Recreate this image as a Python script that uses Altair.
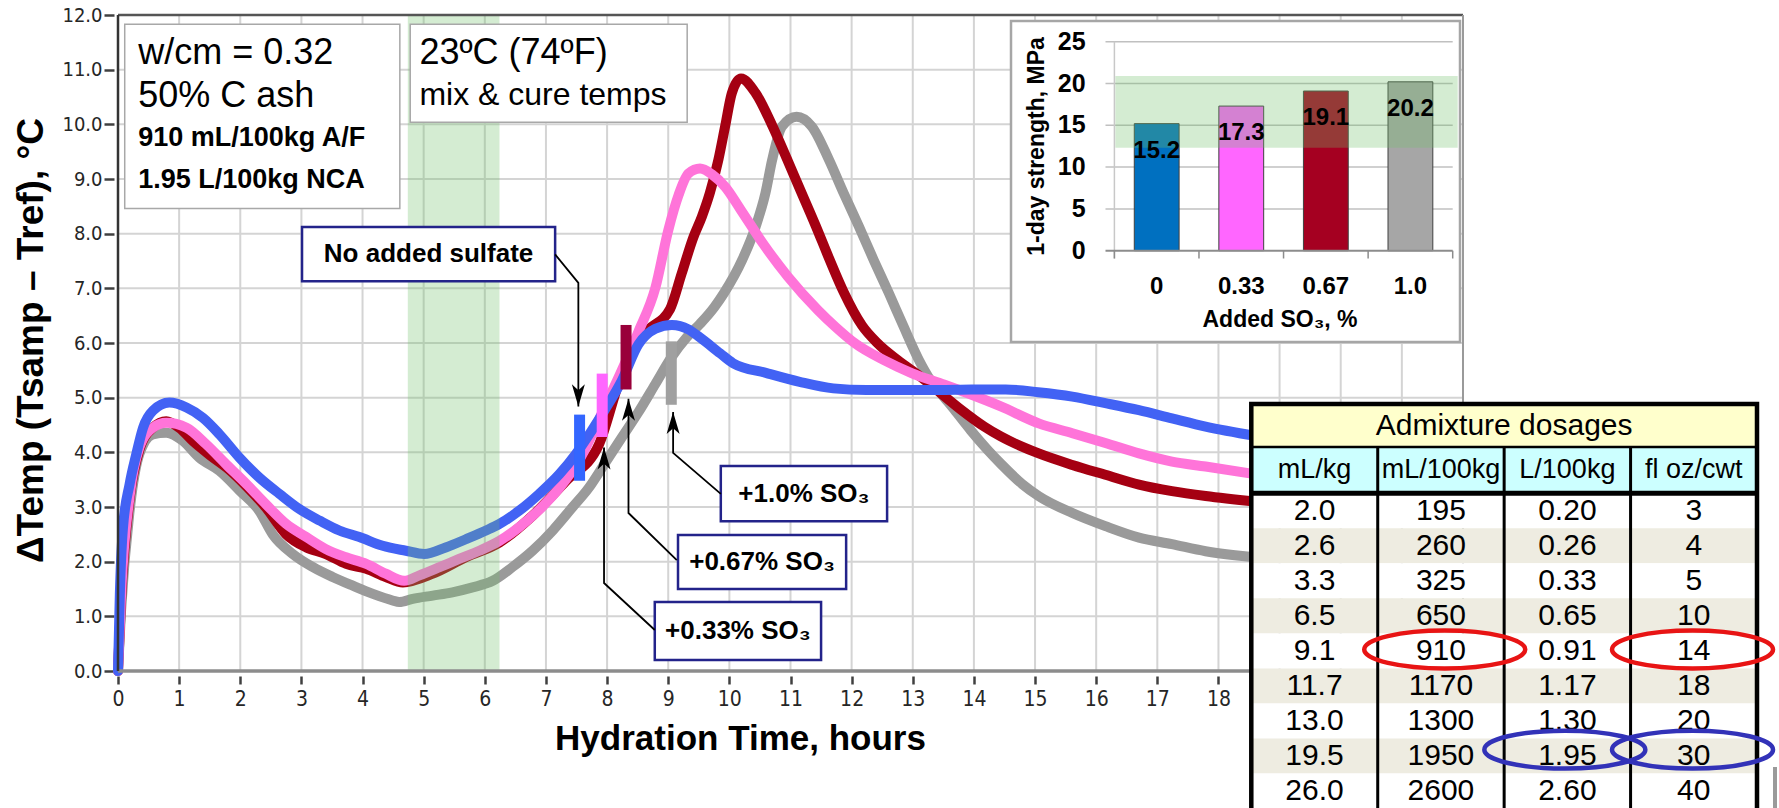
import altair as alt
import pandas as pd

# ---------------- main curves: hydration time (h) vs delta temperature (°C) ----------------
blue_h = [0.0, 0.03, 0.08, 0.19, 0.30, 0.41, 0.57, 0.84, 1.12, 1.39, 1.66, 1.99, 2.31, 2.64, 2.97, 3.30, 3.62, 3.95,
          4.33, 4.71, 5.01, 5.36, 5.69, 6.02, 6.24, 6.56, 6.89, 7.22, 7.49, 7.75, 7.97, 8.24, 8.51, 8.79, 9.06, 9.33,
          9.52, 9.85, 10.06, 10.61, 11.15, 11.70, 12.24, 12.87, 13.43, 13.96, 14.52, 15.05, 15.61, 16.15, 16.70,
          17.24, 17.79, 18.60]
blue_v = [0.0, 1.40, 2.60, 3.42, 3.97, 4.45, 4.76, 4.91, 4.82, 4.63, 4.33, 3.90, 3.54, 3.24, 2.96, 2.75, 2.57, 2.45,
          2.29, 2.20, 2.14, 2.26, 2.41, 2.57, 2.69, 2.93, 3.24, 3.60, 3.97, 4.40, 4.79, 5.31, 5.97, 6.26, 6.33, 6.25,
          6.10, 5.81, 5.63, 5.45, 5.29, 5.17, 5.14, 5.14, 5.14, 5.15, 5.15, 5.10, 5.02, 4.90, 4.77, 4.62, 4.47, 4.30]

pink_h = [0.0, 0.05, 0.19, 0.35, 0.57, 0.79, 1.12, 1.44, 1.77, 2.10, 2.42, 2.75, 3.08, 3.40, 3.73, 4.06, 4.38, 4.68,
          4.93, 5.26, 5.58, 5.91, 6.24, 6.56, 6.89, 7.22, 7.54, 7.97, 8.24, 8.51, 8.79, 9.00, 9.17, 9.33, 9.52, 9.72,
          9.93, 10.19, 10.55, 10.96, 11.45, 11.73, 12.06, 12.52, 12.98, 13.46, 13.90, 14.44, 15.06, 15.61, 16.15,
          16.70, 17.24, 17.79, 18.60]
pink_v = [0.0, 1.40, 3.20, 4.09, 4.45, 4.54, 4.45, 4.15, 3.78, 3.42, 3.05, 2.69, 2.45, 2.23, 2.08, 1.96, 1.78, 1.65,
          1.75, 1.90, 2.05, 2.20, 2.38, 2.63, 2.95, 3.35, 3.85, 4.85, 5.50, 6.20, 7.01, 8.06, 8.71, 9.10, 9.19, 9.08,
          8.86, 8.43, 7.82, 7.21, 6.60, 6.30, 5.99, 5.69, 5.45, 5.26, 5.08, 4.84, 4.53, 4.35, 4.17, 3.98, 3.83, 3.74,
          3.60]

red_h = [0.0, 0.05, 0.19, 0.35, 0.57, 0.79, 1.00, 1.23, 1.50, 1.80, 2.10, 2.42, 2.75, 3.08, 3.40, 3.73, 4.06, 4.38,
         4.66, 5.15, 5.69, 6.24, 6.78, 7.33, 7.87, 8.20, 8.46, 8.68, 9.03, 9.22, 9.41, 9.55, 9.68, 9.82, 9.93, 10.04,
         10.19, 10.43, 10.70, 10.96, 11.16, 11.41, 11.63, 11.87, 12.17, 12.42, 12.75, 13.13, 13.46, 13.79, 14.17,
         14.44, 15.06, 15.61, 16.15, 16.70, 17.24, 17.79, 18.60]
red_v = [0.0, 1.30, 3.15, 4.05, 4.45, 4.57, 4.45, 4.20, 3.95, 3.70, 3.38, 2.99, 2.50, 2.26, 2.14, 1.96, 1.87, 1.72,
         1.62, 1.78, 2.08, 2.35, 2.84, 3.48, 4.15, 5.30, 6.00, 6.25, 6.62, 7.27, 7.93, 8.31, 8.74, 9.35, 9.96, 10.57,
         10.84, 10.57, 9.98, 9.32, 8.80, 8.15, 7.55, 6.93, 6.32, 6.00, 5.69, 5.38, 5.08, 4.78, 4.47, 4.29, 3.98, 3.77,
         3.59, 3.41, 3.29, 3.20, 3.10]

gray_h = [0.0, 0.05, 0.19, 0.35, 0.57, 0.79, 1.06, 1.33, 1.66, 1.99, 2.31, 2.53, 2.86, 3.19, 3.51, 3.84, 4.17, 4.49,
          4.60, 4.82, 5.15, 5.47, 5.80, 6.13, 6.45, 6.78, 7.11, 7.43, 7.70, 7.97, 8.24, 8.51, 8.79, 9.06, 9.30, 9.52,
          9.75, 9.91, 10.21, 10.43, 10.59, 10.70, 10.86, 11.10, 11.35, 11.63, 11.87, 12.12, 12.36, 12.61, 12.85,
          13.10, 13.29, 13.46, 13.68, 13.95, 14.22, 14.45, 14.79, 15.06, 15.61, 16.15, 16.70, 17.24, 17.79, 18.60]
gray_v = [0.0, 1.10, 2.93, 3.97, 4.33, 4.36, 4.21, 3.90, 3.66, 3.30, 2.93, 2.50, 2.14, 1.90, 1.72, 1.56, 1.41, 1.29,
          1.26, 1.32, 1.38, 1.44, 1.53, 1.65, 1.90, 2.20, 2.57, 2.99, 3.35, 3.81, 4.27, 4.73, 5.25, 5.75, 6.10, 6.35,
          6.65, 6.91, 7.52, 8.13, 8.74, 9.35, 9.96, 10.14, 9.96, 9.35, 8.74, 8.13, 7.52, 6.91, 6.30, 5.69, 5.32, 5.08,
          4.78, 4.40, 4.05, 3.78, 3.42, 3.20, 2.89, 2.65, 2.44, 2.32, 2.19, 2.08]

series_names = ["No added sulfate", "+0.33% SO3", "+0.67% SO3", "+1.0% SO3"]
series_colors = ["#4262F4", "#FF74D9", "#A50012", "#9A9A9A"]

# set-time markers on each curve
marker_h = [7.55, 7.92, 8.31, 9.05]
marker_lo = [3.48, 4.28, 5.15, 4.87]
marker_hi = [4.69, 5.44, 6.33, 6.03]
marker_colors = ["#3366FF", "#FF66FF", "#99003A", "#A0A0A0"]

# shaded window (hours)
band_hours = [4.74, 6.24]

# callout boxes
annot_text = ["No added sulfate", "+0.33% SO₃", "+0.67% SO₃", "+1.0% SO₃"]
annot_x1 = [3.01, 8.78, 9.16, 9.86]
annot_x2 = [7.15, 11.50, 11.91, 12.58]
annot_y1 = [7.13, 0.20, 1.50, 2.74]
annot_y2 = [8.12, 1.26, 2.49, 3.75]
conn_h = [[7.15, 7.53, 7.53], [8.78, 7.95, 7.95], [9.14, 8.35, 8.35], [9.86, 9.08, 9.08]]
conn_v = [[7.62, 7.10, 4.84], [0.75, 1.61, 4.09], [2.03, 2.89, 4.98], [3.24, 3.99, 4.74]]
arrow_dir = ["down", "up", "up", "up"]

# info boxes
info_x1 = [0.11, 4.78]
info_x2 = [4.61, 9.31]
info_y1 = [8.46, 10.04]
info_y2 = [11.83, 11.83]
info_lines = ["w/cm = 0.32", "50% C ash", "910 mL/100kg A/F", "1.95 L/100kg NCA", "23ºC (74ºF)", "mix & cure temps"]
info_line_x = [0.33, 0.33, 0.33, 0.33, 4.93, 4.93]
info_line_y = [11.30, 10.51, 9.75, 8.99, 11.30, 10.54]
info_line_size = [36, 36, 27, 27, 36, 32]
info_line_bold = [False, False, True, True, False, False]

x_ticks = list(range(0, 19))
y_ticks = list(range(0, 13))
x_grid = list(range(1, 22))
y_grid = list(range(1, 12))

# ---------------- inset: 1-day strength ----------------
so3_added = ["0", "0.33", "0.67", "1.0"]
strength_mpa = [15.2, 17.3, 19.1, 20.2]
bar_colors = ["#0070C0", "#FF66FF", "#A50021", "#A6A6A6"]
strength_ticks = [0, 5, 10, 15, 20, 25]
strength_band = [12.3, 20.9]

# ---------------- table: admixture dosages ----------------
table_title = "Admixture dosages"
col_headers = ["mL/kg", "mL/100kg", "L/100kg", "fl oz/cwt"]
col_ml_kg = ["2.0", "2.6", "3.3", "6.5", "9.1", "11.7", "13.0", "19.5", "26.0"]
col_ml_100kg = ["195", "260", "325", "650", "910", "1170", "1300", "1950", "2600"]
col_l_100kg = ["0.20", "0.26", "0.33", "0.65", "0.91", "1.17", "1.30", "1.95", "2.60"]
col_floz_cwt = ["3", "4", "5", "10", "14", "18", "20", "30", "40"]
hl_col = [1.53, 3.49, 2.48, 3.49]
hl_row = [4.46, 4.46, 7.32, 7.32]
hl_color = ["#E81414", "#E81414", "#3232B8", "#3232B8"]

# ---------------- layout (pixels) ----------------
W, H = 1345, 656
PAD = {"left": 118, "top": 15, "right": 316, "bottom": 137}
SANS = "Liberation Sans, Arial, sans-serif"
TICKF = "DejaVu Sans Condensed, DejaVu Sans, sans-serif"

xs = alt.Scale(domain=[0, 22], nice=False, zero=False)
ys = alt.Scale(domain=[0, 12], nice=False, zero=False)


def X(f, **k):
    return alt.X(f, scale=xs, axis=None, **k)


def Y(f, **k):
    return alt.Y(f, scale=ys, axis=None, **k)


one = pd.DataFrame({"a": [0]})

x_axis = alt.Axis(values=x_ticks, format="d", title="Hydration Time, hours", grid=False, domain=False,
                  offset=5, tickSize=8, tickWidth=2.5, tickColor="#404040",
                  labelFont=TICKF, labelFontSize=21, labelColor="#262626", labelPadding=4,
                  labelFlush=False, labelOverlap=False,
                  titleFont=SANS, titleFontSize=35, titleFontWeight="bold", titleColor="#000000",
                  titleX=622, titleY=62, titleAlign="center", titleBaseline="middle")
y_axis = alt.Axis(values=y_ticks, format=".1f", title="ΔTemp (Tsamp – Tref), °C", grid=False, domain=False,
                  offset=4, tickSize=10, tickWidth=2.5, tickColor="#404040",
                  labelFont=TICKF, labelFontSize=20, labelColor="#262626", labelPadding=2,
                  labelFlush=False, labelOverlap=False,
                  titleFont=SANS, titleFontSize=37, titleFontWeight="bold", titleColor="#000000",
                  titleX=-83, titleY=325, titleAngle=270, titleAlign="center", titleBaseline="middle")

grid_v = alt.Chart(pd.DataFrame({"h": x_grid})).mark_rule(color="#D4D4D4", strokeWidth=2).encode(
    x=alt.X("h:Q", scale=xs, axis=x_axis), y=alt.value(0), y2=alt.value(H))
grid_hz = alt.Chart(pd.DataFrame({"v": y_grid})).mark_rule(color="#D4D4D4", strokeWidth=2).encode(
    y=alt.Y("v:Q", scale=ys, axis=y_axis), x=alt.value(0), x2=alt.value(W))

curve_layers = []
for name, hs, vs, col in [(series_names[3], gray_h, gray_v, series_colors[3]),
                          (series_names[2], red_h, red_v, series_colors[2]),
                          (series_names[1], pink_h, pink_v, series_colors[1]),
                          (series_names[0], blue_h, blue_v, series_colors[0])]:
    df = pd.DataFrame({"series": name, "h": hs, "v": vs})
    curve_layers.append(alt.Chart(df).mark_line(color=col, strokeWidth=10, interpolate="monotone",
                                                strokeJoin="round", strokeCap="round").encode(
        x=X("h:Q"), y=Y("v:Q")))

band = alt.Chart(pd.DataFrame({"x1": [band_hours[0]], "x2": [band_hours[1]], "y1": [0], "y2": [12]})).mark_rect(
    fill="#6FBF6A", opacity=0.3).encode(x=X("x1:Q"), x2="x2:Q", y=Y("y1:Q"), y2="y2:Q")

markers = alt.Chart(pd.DataFrame({"h": marker_h, "lo": marker_lo, "hi": marker_hi, "c": marker_colors})).mark_rule(
    strokeWidth=11, strokeCap="butt").encode(x=X("h:Q"), y=Y("lo:Q"), y2="hi:Q", color=alt.Color("c:N", scale=None))

frame = alt.Chart(pd.DataFrame({"x1": [0, 0, 22, 0], "x2": [22, 22, 22, 0], "y1": [0, 12, 0, 0], "y2": [0, 12, 12, 12],
                                "c": ["#8C8C8C", "#555555", "#9A9A9A", "#333333"], "w": [3.5, 2.5, 2, 2.5]})).mark_rule(
).encode(x=X("x1:Q"), x2="x2:Q", y=Y("y1:Q"), y2="y2:Q", color=alt.Color("c:N", scale=None),
         strokeWidth=alt.StrokeWidth("w:Q", scale=None))

info_boxes = alt.Chart(pd.DataFrame({"x1": info_x1, "x2": info_x2, "y1": info_y1, "y2": info_y2})).mark_rect(
    fill="white", stroke="#A8A8A8", strokeWidth=1.5).encode(x=X("x1:Q"), x2="x2:Q", y=Y("y1:Q"), y2="y2:Q")
info_df = pd.DataFrame({"t": info_lines, "x": info_line_x, "y": info_line_y, "s": info_line_size,
                        "b": info_line_bold})
info_text_n = alt.Chart(info_df[~info_df.b]).mark_text(align="left", baseline="middle", font=SANS,
                                                        color="#000000").encode(
    x=X("x:Q"), y=Y("y:Q"), text="t:N", size=alt.Size("s:Q", scale=None))
info_text_b = alt.Chart(info_df[info_df.b]).mark_text(align="left", baseline="middle", font=SANS,
                                                       fontWeight="bold", color="#000000").encode(
    x=X("x:Q"), y=Y("y:Q"), text="t:N", size=alt.Size("s:Q", scale=None))

annot_df = pd.DataFrame({"t": annot_text, "x1": annot_x1, "x2": annot_x2, "y1": annot_y1, "y2": annot_y2})
annot_df["xm"] = (annot_df.x1 + annot_df.x2) / 2
annot_df["ym"] = (annot_df.y1 + annot_df.y2) / 2
annot_boxes = alt.Chart(annot_df).mark_rect(fill="white", stroke="#23238A", strokeWidth=2.5).encode(
    x=X("x1:Q"), x2="x2:Q", y=Y("y1:Q"), y2="y2:Q")
annot_txt = alt.Chart(annot_df).mark_text(font=SANS, fontWeight="bold", fontSize=26, baseline="middle",
                                          color="#000000").encode(x=X("xm:Q"), y=Y("ym:Q"), text="t:N")

conn_rows = []
for i in range(len(conn_h)):
    for j in range(len(conn_h[i])):
        conn_rows.append({"id": i, "seq": j, "h": conn_h[i][j], "v": conn_v[i][j]})
connectors = alt.Chart(pd.DataFrame(conn_rows)).mark_line(color="#000000", strokeWidth=1.8).encode(
    x=X("h:Q"), y=Y("v:Q"), detail="id:N", order="seq:Q")

ARROW = {"down": "M 0 0 L -0.5 -1.7 L 0 -1.25 L 0.5 -1.7 Z", "up": "M 0 0 L -0.5 1.7 L 0 1.25 L 0.5 1.7 Z"}
arrow_df = pd.DataFrame({"h": [c[-1] for c in conn_h], "v": [c[-1] for c in conn_v],
                         "shp": [ARROW[d] for d in arrow_dir]})
arrows = alt.Chart(arrow_df).mark_point(filled=True, color="#000000", size=676, opacity=1).encode(
    x=X("h:Q"), y=Y("v:Q"), shape=alt.Shape("shp:N", scale=None))

main_layers = [grid_v, grid_hz, *curve_layers, band, markers, frame, info_boxes, info_text_n, info_text_b,
               annot_boxes, annot_txt, connectors, arrows]

# ---------------- inset chart ----------------
ix = alt.Scale(domain=so3_added, range=[996.4, 1334.7], paddingInner=0, paddingOuter=0)
iy = alt.Scale(domain=[0, 25], range=[235.7, 26.7], nice=False, zero=False)
BF = "Liberation Sans, Arial, sans-serif"

bars_df = pd.DataFrame({"so3": so3_added, "mpa": strength_mpa, "c": bar_colors})
ticks_df = pd.DataFrame({"t": strength_ticks, "lab": [str(t) for t in strength_ticks]})

inset_box = alt.Chart(one).mark_rect(fill="white", stroke="#A6A6A6", strokeWidth=2.5).encode(
    x=alt.value(893), x2=alt.value(1342), y=alt.value(6), y2=alt.value(327))
inset_grid = alt.Chart(ticks_df[ticks_df.t > 0]).mark_rule(color="#C0C0C0", strokeWidth=1.5).encode(
    y=alt.Y("t:Q", scale=iy, axis=None), x=alt.value(987.5), x2=alt.value(1334.7))
inset_yline = alt.Chart(bars_df.iloc[:1]).mark_rule(color="#C8C8C8", strokeWidth=1.5).encode(
    x=alt.X("so3:N", scale=ix, axis=None, bandPosition=0), y=alt.value(26.7), y2=alt.value(243.5))
inset_bars = alt.Chart(bars_df).mark_bar(width=alt.RelativeBandSize(0.53), stroke="#404040",
                                          strokeWidth=1).encode(
    x=alt.X("so3:N", scale=ix, axis=None, sort=None), y=alt.Y("mpa:Q", scale=iy, axis=None),
    color=alt.Color("c:N", scale=None))
inset_band = alt.Chart(pd.DataFrame({"lo": [strength_band[0]], "hi": [strength_band[1]]})).mark_rect(
    fill="#6FBF6A", opacity=0.3).encode(y=alt.Y("lo:Q", scale=iy, axis=None), y2="hi:Q",
                                        x=alt.value(997.4), x2=alt.value(1339.7))
inset_base = alt.Chart(ticks_df[ticks_df.t == 0]).mark_rule(color="#8C8C8C", strokeWidth=2).encode(
    y=alt.Y("t:Q", scale=iy, axis=None), x=alt.value(987.5), x2=alt.value(1334.7))
inset_xticks = alt.Chart(bars_df).mark_rule(color="#8C8C8C", strokeWidth=1.5).encode(
    x=alt.X("so3:N", scale=ix, axis=None, bandPosition=0), y=alt.value(235.7), y2=alt.value(243.5))
inset_xtick_end = alt.Chart(bars_df.iloc[-1:]).mark_rule(color="#8C8C8C", strokeWidth=1.5).encode(
    x=alt.X("so3:N", scale=ix, axis=None, bandPosition=1), y=alt.value(235.7), y2=alt.value(243.5))
inset_vals = alt.Chart(bars_df).mark_text(font=BF, fontWeight="bold", fontSize=24, dy=27, baseline="middle",
                                          color="#000000").encode(
    x=alt.X("so3:N", scale=ix, axis=None), y=alt.Y("mpa:Q", scale=iy, axis=None),
    text=alt.Text("mpa:Q", format=".1f"))
inset_ylab = alt.Chart(ticks_df).mark_text(font=BF, fontWeight="bold", fontSize=25, align="right",
                                           baseline="middle", color="#000000").encode(
    y=alt.Y("t:Q", scale=iy, axis=None), x=alt.value(967.6), text="lab:N")
inset_xlab = alt.Chart(bars_df).mark_text(font=BF, fontWeight="bold", fontSize=24, baseline="middle",
                                          color="#000000").encode(
    x=alt.X("so3:N", scale=ix, axis=None), y=alt.value(271.7), text="so3:N")
inset_ytitle = alt.Chart(one).mark_text(font=BF, fontWeight="bold", fontSize=23, angle=270, baseline="middle",
                                        text="1-day strength, MPa", color="#000000").encode(
    x=alt.value(919), y=alt.value(131.5))
inset_xtitle = alt.Chart(one).mark_text(font=BF, fontWeight="bold", fontSize=23, baseline="middle",
                                        text="Added SO₃, %", color="#000000").encode(
    x=alt.value(1162), y=alt.value(305))

inset_layers = [inset_box, inset_grid, inset_yline, inset_bars, inset_band, inset_base, inset_xticks,
                inset_xtick_end, inset_vals, inset_ylab, inset_xlab, inset_ytitle, inset_xtitle]

# ---------------- dosage table ----------------
tx = alt.Scale(domain=[0, 4], range=[1133.3, 1639], nice=False, zero=False)
ty = alt.Scale(domain=[-2.55, 9], range=[389, 793.5], nice=False, zero=False)


def TX(f, **k):
    return alt.X(f, scale=tx, axis=None, **k)


def TY(f, **k):
    return alt.Y(f, scale=ty, axis=None, **k)


n_rows = len(col_ml_kg)
rect_rows = [{"x1": 0, "x2": 4, "y1": -2.55, "y2": -1.32, "f": "#FFFFCC"},
             {"x1": 0, "x2": 4, "y1": -1.32, "y2": 0, "f": "#CCFFFF"}]
for r in range(n_rows):
    rect_rows.append({"x1": 0, "x2": 4, "y1": r, "y2": r + 1, "f": "#EEECE1" if r % 2 == 1 else "#FFFFFF"})
t_fill = alt.Chart(pd.DataFrame(rect_rows)).mark_rect().encode(
    x=TX("x1:Q"), x2="x2:Q", y=TY("y1:Q"), y2="y2:Q", fill=alt.Fill("f:N", scale=None))

line_rows = [{"x1": c, "x2": c, "y1": -1.32, "y2": 9.3, "w": 3} for c in [1, 2, 3]]
line_rows += [{"x1": 0, "x2": 4, "y1": -1.32, "y2": -1.32, "w": 2.5},
              {"x1": 0, "x2": 4, "y1": 0, "y2": 0, "w": 5}]
t_lines = alt.Chart(pd.DataFrame(line_rows)).mark_rule(color="#000000").encode(
    x=TX("x1:Q"), x2="x2:Q", y=TY("y1:Q"), y2="y2:Q", strokeWidth=alt.StrokeWidth("w:Q", scale=None))
t_border = alt.Chart(pd.DataFrame({"x1": [0], "x2": [4], "y1": [-2.55], "y2": [9.4]})).mark_rect(
    fill=None, stroke="#000000", strokeWidth=4.5).encode(x=TX("x1:Q"), x2="x2:Q", y=TY("y1:Q"), y2="y2:Q")

t_title = alt.Chart(pd.DataFrame({"x": [2], "y": [-1.935], "t": [table_title]})).mark_text(
    font=SANS, fontSize=30, baseline="middle", color="#000000").encode(x=TX("x:Q"), y=TY("y:Q"), text="t:N")
t_head = alt.Chart(pd.DataFrame({"x": [0.5, 1.5, 2.5, 3.5], "y": [-0.66] * 4, "t": col_headers})).mark_text(
    font=SANS, fontSize=27, baseline="middle", color="#000000").encode(x=TX("x:Q"), y=TY("y:Q"), text="t:N")
cell_rows = []
for c, col in enumerate([col_ml_kg, col_ml_100kg, col_l_100kg, col_floz_cwt]):
    for r, val in enumerate(col):
        cell_rows.append({"x": c + 0.5, "y": r + 0.5, "t": val})
t_cells = alt.Chart(pd.DataFrame(cell_rows)).mark_text(font=SANS, fontSize=30, baseline="middle",
                                                       color="#000000").encode(
    x=TX("x:Q"), y=TY("y:Q"), text="t:N")

ELLIPSE = "M -1 0 A 1 0.235 0 1 1 1 0 A 1 0.235 0 1 1 -1 0 Z"
t_hl = alt.Chart(pd.DataFrame({"x": hl_col, "y": hl_row, "c": hl_color})).mark_point(
    shape=ELLIPSE, size=161 * 161, filled=False, strokeWidth=4.5, opacity=1).encode(
    x=TX("x:Q"), y=TY("y:Q"), stroke=alt.Stroke("c:N", scale=None))
edge_bar = alt.Chart(one).mark_rule(color="#9A9A9A", strokeWidth=4).encode(
    x=alt.value(1657), y=alt.value(752), y2=alt.value(793))

table_layers = [t_fill, t_lines, t_border, t_title, t_head, t_cells, t_hl, edge_bar]

chart = alt.layer(*main_layers, *inset_layers, *table_layers).resolve_scale(
    x="independent", y="independent").properties(
    width=W, height=H, padding=PAD, autosize=alt.AutoSizeParams(type="none"), background="white"
).configure_view(stroke=None)

chart.save("out.html", embed_options={"renderer": "svg", "actions": False})
